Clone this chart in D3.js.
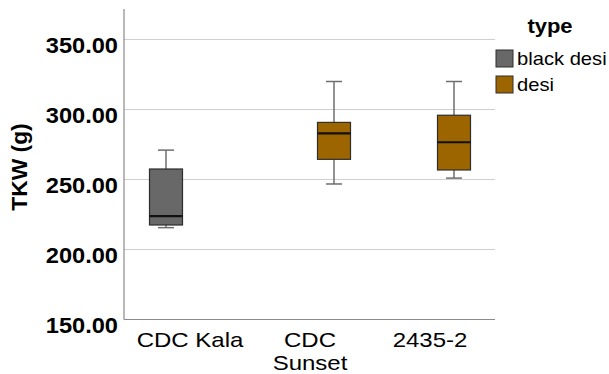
<!DOCTYPE html>
<html>
<head>
<meta charset="utf-8">
<script src="https://cdn.jsdelivr.net/npm/d3@7"></script>
<style>
  html, body { margin: 0; padding: 0; background: #fff; }
  svg { display: block; font-family: "Liberation Sans", Arial, sans-serif; }
</style>
</head>
<body>
<svg id="chart" width="609" height="374"></svg>
<script>
// Thousand-kernel weight by variety, clustered by seed type
const varieties = ["CDC Kala", "CDC Sunset", "2435-2"];
const varietyLabels = [["CDC Kala"], ["CDC", "Sunset"], ["2435-2"]];
const types = ["black desi", "desi"];
const varietyType = ["black desi", "desi", "desi"];
const whiskerLow = [215.6, 246.8, 251.0];
const quartile1 = [217.5, 264.4, 256.8];
const medians = [223.9, 283.0, 276.6];
const quartile3 = [257.5, 290.8, 295.9];
const whiskerHigh = [271.0, 320.0, 320.0];
const yTicks = [150, 200, 250, 300, 350];
const typeColors = ["#686868", "#9c6500"];

const boxes = varieties.map((v, i) => ({
  variety: v, type: varietyType[i],
  lo: whiskerLow[i], q1: quartile1[i], med: medians[i], q3: quartile3[i], hi: whiskerHigh[i]
}));

const svg = d3.select("#chart");
const plotLeft = 124, plotRight = 495, plotBottom = 319.5, plotTop = 9;

const y = d3.scaleLinear().domain([150, 350]).range([plotBottom, 39.5]);
const x = d3.scaleBand().domain(varieties).range([130, 490]);
const xInner = d3.scaleBand().domain(types).range([12, 108])
  .paddingInner(0.3125).paddingOuter(0.15625);
const color = d3.scaleOrdinal().domain(types).range(typeColors);

// grid lines
svg.append("g").selectAll("line")
  .data(yTicks.slice(1)).join("line")
  .attr("x1", plotLeft).attr("x2", plotRight)
  .attr("y1", d => y(d)).attr("y2", d => y(d))
  .attr("stroke", "#d0d0d0").attr("stroke-width", 1);

// y axis labels
const yAxis = d3.axisLeft(y).tickValues(yTicks).tickFormat(d3.format(".2f")).tickSize(0).tickPadding(0);
const gy = svg.append("g").attr("transform", `translate(${plotLeft},0)`).call(yAxis);
gy.select(".domain").remove();
gy.selectAll(".tick text")
  .attr("font-size", 22.5).attr("font-weight", "bold").attr("fill", "#000")
  .attr("font-family", "'Liberation Sans', Arial, sans-serif")
  .attr("x", 0).attr("dy", null)
  .attr("transform", "translate(-6,12.5) scale(1.05,1)");

// axis lines
svg.append("line").attr("x1", plotLeft).attr("x2", plotLeft).attr("y1", plotTop).attr("y2", plotBottom)
  .attr("stroke", "#8a8a8a").attr("stroke-width", 1.2);
svg.append("line").attr("x1", plotLeft).attr("x2", plotRight).attr("y1", plotBottom).attr("y2", plotBottom)
  .attr("stroke", "#8a8a8a").attr("stroke-width", 1.2);

// x category labels
const xl = svg.append("g").selectAll("text")
  .data(varieties).join("text")
  .attr("transform", d => `translate(${x(d) + x.bandwidth() / 2},347) scale(1.2,1)`)
  .attr("text-anchor", "middle").attr("font-size", 20).attr("fill", "#000");
xl.each(function(d, i) {
  d3.select(this).selectAll("tspan").data(varietyLabels[i]).join("tspan")
    .attr("x", 0).attr("dy", (t, j) => j === 0 ? 0 : 23).text(t => t);
});

// y title
svg.append("text")
  .attr("transform", "translate(27,167) rotate(-90) scale(1.06,1)")
  .attr("text-anchor", "middle").attr("font-size", 21.5).attr("font-weight", "bold")
  .text("TKW (g)");

// boxes
const bw = xInner.bandwidth();
const capW = 16;
const g = svg.append("g").selectAll("g").data(boxes).join("g")
  .attr("transform", d => `translate(${x(d.variety) + xInner(d.type)},0)`);
g.append("line").attr("x1", bw / 2).attr("x2", bw / 2)
  .attr("y1", d => y(d.hi)).attr("y2", d => y(d.q3)).attr("stroke", "#6e6e6e").attr("stroke-width", 1.5);
g.append("line").attr("x1", bw / 2).attr("x2", bw / 2)
  .attr("y1", d => y(d.q1)).attr("y2", d => y(d.lo)).attr("stroke", "#6e6e6e").attr("stroke-width", 1.5);
g.append("line").attr("x1", bw / 2 - capW / 2).attr("x2", bw / 2 + capW / 2)
  .attr("y1", d => y(d.hi)).attr("y2", d => y(d.hi)).attr("stroke", "#6e6e6e").attr("stroke-width", 1.5);
g.append("line").attr("x1", bw / 2 - capW / 2).attr("x2", bw / 2 + capW / 2)
  .attr("y1", d => y(d.lo)).attr("y2", d => y(d.lo)).attr("stroke", "#6e6e6e").attr("stroke-width", 1.5);
g.append("rect").attr("x", 0).attr("width", bw)
  .attr("y", d => y(d.q3)).attr("height", d => y(d.q1) - y(d.q3))
  .attr("fill", d => color(d.type)).attr("stroke", "#2e2e2e").attr("stroke-width", 1.2);
g.append("line").attr("x1", 0).attr("x2", bw)
  .attr("y1", d => y(d.med)).attr("y2", d => y(d.med))
  .attr("stroke", "#111").attr("stroke-width", 2.2);

// legend
const legend = svg.append("g").attr("transform", "translate(496,0)");
legend.append("text").attr("transform", "translate(54,33) scale(1.1,1)")
  .attr("text-anchor", "middle").attr("font-size", 20).attr("font-weight", "bold").text("type");
const li = legend.selectAll("g.item").data(types).join("g").attr("class", "item")
  .attr("transform", (d, i) => `translate(0,${50 + i * 26})`);
li.append("rect").attr("width", 17).attr("height", 17)
  .attr("fill", d => color(d)).attr("stroke", "#2e2e2e").attr("stroke-width", 1);
li.append("text").attr("transform", "translate(21,15) scale(1.12,1)")
  .attr("font-size", 18).text(d => d);
</script>
</body>
</html>
